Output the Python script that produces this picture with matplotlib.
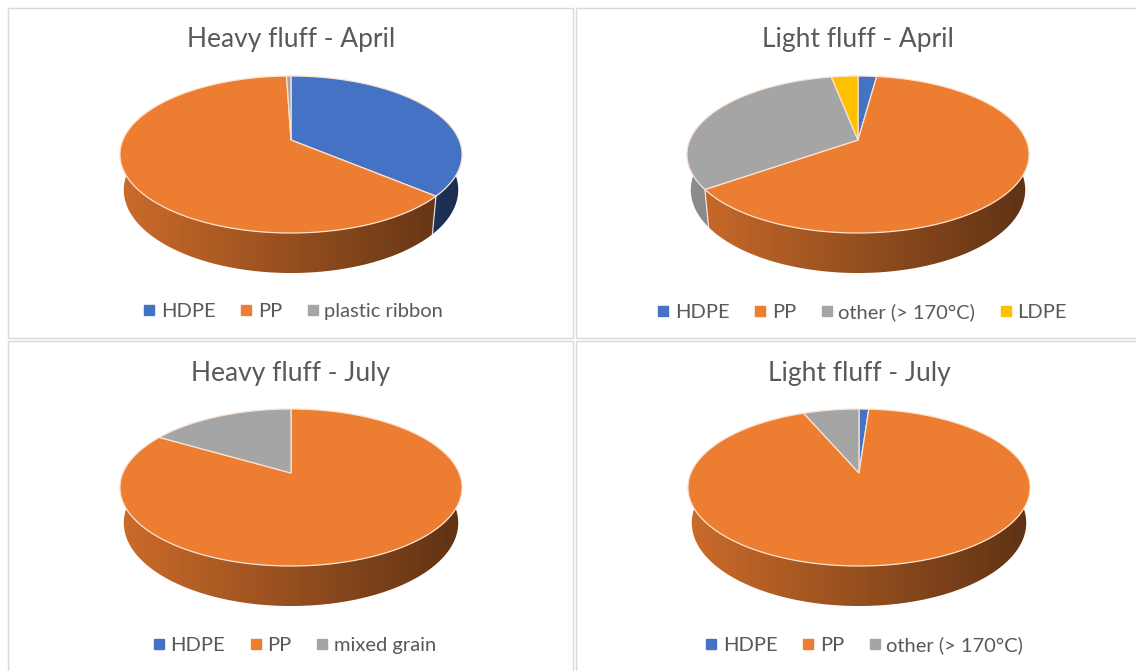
import numpy as np
import matplotlib
matplotlib.use("Agg")
import matplotlib.pyplot as plt
from matplotlib.patches import Polygon, Rectangle
from matplotlib.lines import Line2D

plt.rcParams['font.family'] = ['Lato', 'DejaVu Sans']

# composition per sample (%), clockwise from 12 o'clock
heavy_april_labels = ['HDPE', 'PP', 'plastic ribbon']
heavy_april = [36.3, 63.2, 0.5]

light_april_labels = ['HDPE', 'PP', 'other (> 170°C)', 'LDPE']
light_april = [2.1, 63.0, 31.9, 3.0]

heavy_july_labels = ['HDPE', 'PP', 'mixed grain']
heavy_july = [0.0, 83.6, 16.4]

light_july_labels = ['HDPE', 'PP', 'other (> 170°C)']
light_july = [1.1, 92.6, 6.3]

titles = ['Heavy fluff - April', 'Light fluff - April',
          'Heavy fluff - July', 'Light fluff - July']

colours = {'HDPE': '#4472C4', 'PP': '#ED7D31', 'plastic ribbon': '#A5A5A5',
           'other (> 170°C)': '#A5A5A5', 'mixed grain': '#A5A5A5',
           'LDPE': '#FFC000'}

W, H = 1136, 671
TXT = '#595959'

# 3D view: elevation, camera distance, focal length (px), disc thickness
ELEV = np.arcsin(0.451)
SE, CE = np.sin(ELEV), np.cos(ELEV)
DIST = 4.83
FOC = 812.0
THICK = 0.237


def project(x, y, z, cx, cy):
    d = DIST + y * CE - z * SE
    return cx + x * FOC / d, cy - (y * SE + z * CE) * FOC / d


def shade(u):
    return 0.86 - 0.46 * u


def pie3d(ax, values, labels, cx, cy):
    vals = np.asarray(values, dtype=float)
    frac = vals / vals.sum()
    ends = np.pi / 2 - 2 * np.pi * np.cumsum(frac)
    starts = np.concatenate([[np.pi / 2], ends[:-1]])

    left, right = cx - 172, cx + 172
    ugrid = np.linspace(0, 1, 400)

    # side walls, far slices first
    delta = 0.25
    walls = []
    for a1, a2, lab, v in zip(starts, ends, labels, vals):
        if v <= 0:
            continue
        lo, hi = max(a2, -np.pi - delta), min(a1, delta)
        if lo >= hi:
            continue
        walls.append((np.sin((lo + hi) / 2), lo, hi, lab))
    walls.sort(key=lambda w: -w[0])
    for _, lo, hi, lab in walls:
        t = np.linspace(hi, lo, 200)
        tx, ty = project(np.cos(t), np.sin(t), 0.0, cx, cy)
        bx, by = project(np.cos(t[::-1]), np.sin(t[::-1]), -THICK, cx, cy)
        poly = Polygon(np.column_stack([np.r_[tx, bx], np.r_[ty, by]]),
                       closed=True, facecolor='none', edgecolor='none')
        ax.add_patch(poly)
        base = np.array(matplotlib.colors.to_rgb(colours[lab]))
        grad = (base[None, :] * shade(ugrid)[:, None])[None, :, :]
        im = ax.imshow(grad, extent=(left, right, cy + 150, cy - 90),
                       aspect='auto', interpolation='bilinear', zorder=2)
        im.set_clip_path(poly)

    # light seams where slices meet on the front wall
    for a in starts:
        if -np.pi < a < 0 and len(vals) > 1:
            x0, y0 = project(np.cos(a), np.sin(a), 0.0, cx, cy)
            x1, y1 = project(np.cos(a), np.sin(a), -THICK, cx, cy)
            ax.plot([x0, x1], [y0, y1], color='white', lw=0.9, alpha=0.8,
                    zorder=3)

    # top faces
    for a1, a2, lab, v in zip(starts, ends, labels, vals):
        if v <= 0:
            continue
        n = max(int(abs(a1 - a2) * 120), 4)
        t = np.linspace(a1, a2, n)
        rx, ry = project(np.cos(t), np.sin(t), 0.0, cx, cy)
        pts = np.column_stack([np.r_[cx, rx], np.r_[cy, ry]])
        ax.add_patch(Polygon(pts, closed=True, facecolor=colours[lab],
                             edgecolor='#fbe3d2', lw=0.9, zorder=4))


fig = plt.figure(figsize=(W / 100, H / 100), dpi=100)
ax = fig.add_axes([0, 0, 1, 1])
ax.set_axis_off()

# chart frames
for x0, y0, x1, y1 in [(8, 8, 573, 338), (576, 8, 1145, 338),
                       (8, 341, 573, 680), (576, 341, 1145, 680)]:
    ax.add_patch(Rectangle((x0, y0), x1 - x0, y1 - y0, fill=False,
                           edgecolor='#d9d9d9', lw=1.0, zorder=1))

panels = [
    (heavy_april, heavy_april_labels, 291, 140, 40, 294, 311),
    (light_april, light_april_labels, 858, 140, 40, 863, 312),
    (heavy_july, heavy_july_labels, 291, 473, 373, 295, 645),
    (light_july, light_july_labels, 859, 473, 373, 865, 645),
]

for (vals, labs, cx, cy, ty, lx, ly), title in zip(panels, titles):
    pie3d(ax, vals, labs, cx, cy)
    ax.text(cx, ty, title, ha='center', va='center', fontsize=19, color=TXT)
    handles = [Line2D([], [], marker='s', ls='', color=colours[l], markersize=6.5)
               for l in labs]
    fig.legend(handles, labs, loc='center',
               bbox_to_anchor=(lx / W, 1 - ly / H), ncol=len(labs),
               frameon=False, fontsize=14.5, handlelength=0.45,
               handletextpad=0.35, columnspacing=1.3, labelcolor=TXT)

ax.set_xlim(0, W)
ax.set_ylim(H, 0)

fig.savefig('out.png', dpi=100)
